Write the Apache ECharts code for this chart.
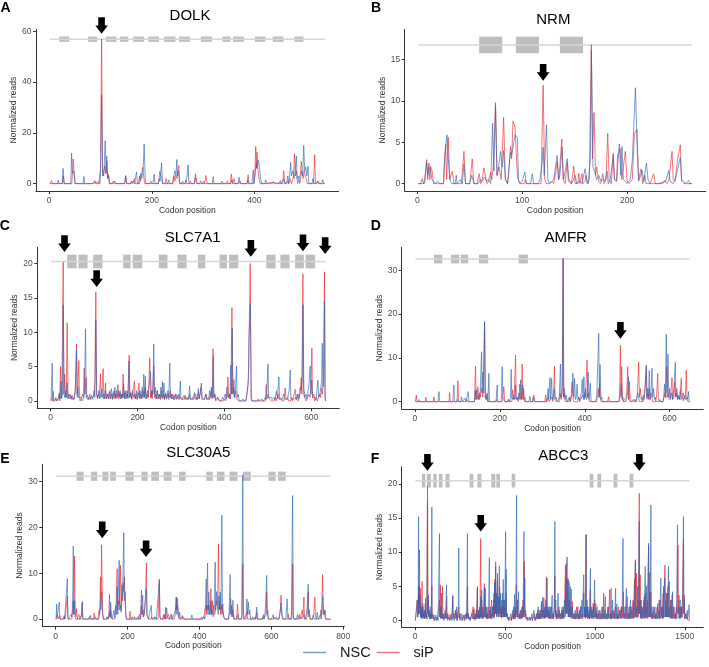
<!DOCTYPE html>
<html><head><meta charset="utf-8">
<script src="https://cdn.jsdelivr.net/npm/echarts@6/dist/echarts.min.js"></script>
<style>html,body{margin:0;padding:0;background:#fff}#c{width:709px;height:667px}</style>
</head><body><div id="c"></div>
<script>
// ---------- DATA ----------
const GENES = ['DOLK','NRM','SLC7A1','AMFR','SLC30A5','ABCC3'];
const PANEL_LETTERS = ['A','B','C','D','E','F'];
const SERIES_NAMES = ['NSC','siP'];

const X_TICKS = [[0,200,400],[0,100,200],[0,200,400,600],[0,200,400,600],[0,200,400,600,800],[0,500,1000,1500]];
const Y_TICKS = [[0,20,40,60],[0,5,10,15],[0,5,10,15,20],[0,10,20,30],[0,10,20,30],[0,5,10,15,20]];
const X_RANGE = [[-25.8,563.8],[-12,275],[-30.6,664.6],[-31.3,679.3],[-37.2,803],[-75.3,1603]];
const Y_RANGE = [[-2.9,60.8],[-0.89,18.66],[-1.07,22.37],[-1.68,35.28],[-1.65,33.7],[-1.0,22.5]];

// protein track: [start, end, y]
const TRACKS = [[1,537,56.9],[1,262,16.77],[1,633,20.3],[1,647,32.6],[1,765,31.1],[1,1526,20.45]];

// domain boxes [start, end]
const A_BOXES = [[19.5,39],[76,93.5],[110.4,131],[137.7,154],[163.6,185],[192.9,214],[224,246],[253,274],[295.4,317.5],[337.6,353],[358.4,379.8],[400.6,421.4],[435.6,456.4],[477.8,495.4]];
const B_BOXES = [[59,81],[94,116],[136,158]];
const C_BOXES = [[38,60],[64,85],[98,119.5],[167,184],[189,211],[249,269],[292,313],[339,356],[389,406],[411,432],[496.5,518],[529,550],[563,583],[587,609]];
const D_BOXES = [[44.7,64.3],[84.7,104.3],[107.5,125.5],[150.6,172.5],[244,266]];
const E_BOXES = [[58,78],[98,115.6],[130,147],[151.6,167.4],[194,217],[238.6,256],[266,287.5],[300.5,322.7],[343,361.6],[419,437],[448.5,469.7],[483.6,505.8],[520.5,542.8],[591.8,612],[618.6,640]];
const F_BOXES = [[37,55.5],[64.7,87],[100,120],[131,151.7],[168,190.5],[303,323.7],[346,368],[423.6,445.8],[451,471.7],[536.4,556.8],[971,991.5],[1013.7,1034],[1104,1124.7],[1193,1213.5]];

// arrows [codon, tip value]
const A_ARROWS = [[102,59]];
const B_ARROWS = [[120,12.45]];
const C_ARROWS = [[32,21.7],[106,16.6],[461,21.0],[581,21.8],[632,21.4]];
const D_ARROWS = [[484,14.4]];
const E_ARROWS = [[129.5,17.6],[251.5,13.5]];
const F_ARROWS = [[68,21.9],[364.5,13.0],[1247,21.9]];

// reads [codon, normalized reads]
const A_NSC = [[1,0],[16,0],[17.6,1.4],[19,0],[25,0],[27,6],[29,0],[42,0],[43.6,12],[45,4],[48,5],[50,0],[66,0],[67.6,2.9],[69,0],[85,0],[88,0.8],[91,0],[99,0],[100,4],[102,35],[104,3],[107,6],[109,17],[111,4],[112,10.8],[114,2],[116,3],[118,0],[125,0],[128,1],[130,0],[147,0],[149,3.2],[151,0],[160,0],[163,1],[166,0],[168,0],[170,4.5],[172,0],[176,0],[178,4],[180,2],[183,5],[185,15.6],[187,2],[189,0],[202,0],[204.6,3.8],[206,0],[213,0],[215,2],[216,1],[218.9,8.2],[221,0],[231,0],[233,1.5],[235,0],[241,0],[242,2],[244.8,5.1],[247,3],[248.7,9.5],[250,3],[252,5],[254,0],[258,0],[260,1],[262,0],[266,0],[268,2],[270.8,7.4],[272,0],[283,0],[285,2.5],[287,0],[299,0],[301,1],[303,0],[318,0],[319.5,2.8],[321,0],[335,0],[337,1],[339,0],[354,0],[356,1.5],[358,0],[368,0],[370,2.5],[372,0],[385,0],[387,1.5],[389,0],[395,0],[397.7,5.4],[399,0],[401,3],[403,8],[405,6],[407.7,9.3],[410,6.4],[412,2],[414,0],[420,0],[422,1.5],[424,0],[435,0],[437,0.8],[439,0],[448,0],[450.6,1.2],[452,0],[455,0],[457,2],[459,0],[463,0],[465,3],[467,0],[469,0],[470.7,8.4],[472,3],[475,5],[477,2],[479,4],[481.7,10.9],[483,2],[486,3],[488,0],[490,2],[492,5],[494,3],[496,15.1],[498,5],[500,6.5],[502,3],[504.5,6.8],[506,0],[512,0],[514,2],[516,0],[522,0],[524,1],[526,0],[531,0],[533,1.5],[535,0],[537,0]];
const A_SIP = [[1,0],[3,0],[4.6,1.2],[6,0],[26,0],[27.4,3],[29,0],[44,0],[46.8,9.7],[49,3],[51,0],[57,0],[59,0.5],[61,0],[73,0],[75,0.6],[77,0],[87,0],[89,1.2],[91,0],[94,0],[95,1],[97,0],[98,3],[100,6],[102,57],[104,5],[106,3],[108,7],[110,4],[112,9.1],[114,2],[115,3.8],[117,0],[123,0],[125,1],[127,0],[147,0],[149,3],[151,0],[158,0],[160,1],[162,0],[164,0],[166,2],[168,0],[174,0],[176,3],[178,1],[180,4],[182,6.4],[184,3],[186,0],[195,0],[198,1],[200,0],[212,0],[214,2],[215.5,4.9],[217.6,4.9],[219,2],[221,0],[226,0],[228,2],[230,0],[240,0],[243,3],[245,1],[247,3],[249,2],[252.6,7.1],[254,1],[256,0],[265,0],[266,1.5],[268,0],[273,0],[275,1],[277,0],[283,0],[285,3.9],[287,1],[289,0],[293,0],[295,1.2],[297,0],[303,0],[305,3.2],[307,1],[309,0],[345,0],[347,1],[349,0],[353,0],[355,3.8],[357,0],[359,0],[360,2],[362,0],[369,0],[372,1],[374,0],[386,0],[387.7,3.5],[389,0],[399,0],[401,5],[402.5,14.7],[404,6],[405,12.4],[407,5],[409,2],[411,0],[425,0],[430,0.5],[432,0],[455,0],[457,5.1],[459,0],[461,0],[464,1],[466,0],[468,0],[470,2],[472,0],[474,1],[476,3],[478,11.7],[480,3],[482,5],[484,0],[487,0],[489,3],[491.5,8.8],[493,4],[495,2],[497,5],[499,3],[501,2],[503,0],[515,0],[517.4,11.4],[519,0],[522,0],[524,1],[526,0],[530,0],[532,0.5],[534,0],[537,0]];

const B_NSC = [[1,0],[7,0],[8.9,2.6],[10,1],[11,2],[12.7,1.6],[14,0.5],[15.9,0.4],[17,0],[19,0.3],[21,0],[25,0],[26,3],[28.3,5.9],[29.5,3],[31,0.5],[33,0],[36,0],[37.2,1],[38,0],[41,0.5],[43,0],[44.5,2.4],[46,0],[50,0],[52,1],[54,0],[58,0],[60,0.5],[62,0.3],[64,0.8],[66,0.3],[68,0.5],[70,0],[71.8,7.3],[73,1.5],[74.6,9.4],[76,1],[77,1.5],[79.4,3.9],[81,2],[82.3,4],[84,0.5],[86,0],[88.9,3.8],[90,3.5],[92,5],[93.2,5.9],[95.4,5.6],[96.5,0.5],[98,0],[100,0.3],[102.6,1.4],[104,0],[108,0],[109.6,1.2],[111,0],[115,0],[117,0.5],[119.1,2.5],[120,4.4],[121,1],[123.2,7.1],[124.5,0.5],[126,0],[130,0.5],[133.4,3.4],[134.5,0.5],[136,1],[138,4.4],[139.5,0.5],[141,0.5],[143,3],[144.5,0.5],[147,0],[149,0.5],[150.5,1],[152,0],[155,0.3],[157,0],[160,1.8],[161.5,0.5],[163,0],[165,3],[166,16.1],[167.5,2],[169,1.5],[171,0.5],[173,1],[175,0.3],[177,0.5],[179,0.3],[181,1.5],[182,0],[184,0.5],[186.9,3.4],[188,0.5],[190,0.3],[192.7,4.8],[194,1],[195.2,4.5],[196.5,0.5],[198,0.5],[200,0],[203,0.5],[205,2.8],[208,11.6],[209.5,5],[211,0.3],[213,1],[214.5,1.6],[216,0.3],[218.5,2.5],[220,0.5],[222,0],[230,0],[237,0.3],[239.7,1.6],[241,0.3],[244,0],[247,1],[250.8,3.2],[252,0.5],[254,0.3],[256,0],[258.8,0.4],[260,0],[262,0]];
const B_SIP = [[1,0],[3,0],[4.8,0.6],[6,0],[7,0.5],[8.9,2.9],[10,0.5],[11.1,2.5],[12,0.5],[12.7,2.1],[14.3,1.4],[15.5,0],[20,0],[25,0],[27,4.8],[28,0.5],[29.5,5.6],[31,0.5],[33.4,1.5],[35,0],[42,0],[44.5,3.9],[46,0],[50,0],[52.4,3],[54,0],[57,0],[59,1.2],[60.5,0],[62,0.5],[63.5,1.9],[65,1.8],[66.5,0],[68,0.3],[69.9,1.4],[71,0.5],[72.5,2.1],[74.6,9.8],[76,1],[78,2],[80,0.5],[82.3,8],[84,0.5],[86,0],[87,1],[88.9,4.5],[90,3],[91.3,7.6],[93.2,6.8],[95,2],[96,0.5],[98,0],[102,0],[103,0.5],[104,0],[118,0],[120,11.9],[121.5,0.5],[123,0],[126,0],[128,0.3],[130,0],[132,1.25],[133.4,2.7],[135,0.5],[137.8,5.4],[139,0.5],[141,0],[143,2.5],[144,0.3],[147,0],[149.2,2.1],[150.5,0],[153,0],[154,1.25],[155,0],[157,1.2],[158,0],[160,0.3],[161,1],[162,0],[164,0.5],[166,16.8],[167,3],[168.5,8.6],[170,1],[171,2],[173,0.3],[175,0],[177,1.2],[178,0],[180,0.5],[181.6,6.1],[183,0.5],[185,0],[186.9,3.7],[188,0.5],[190,0.3],[191,3.5],[193.5,4.2],[195,0.5],[196,0.5],[198.4,3.9],[200,0.3],[202,0],[205,0.5],[207,6],[208,5.8],[209.5,6.6],[211,0.5],[213.4,1.8],[215,0],[217,1],[218,0],[222,0],[225.4,1.2],[227,0],[234,0],[236,0.4],[238,0],[240,0.5],[242.9,3.9],[244,0.5],[246,0.3],[248,2.8],[250.8,4.7],[252,0.3],[254,0],[262,0]];

const C_NSC = [[1,0],[2.5,0],[3.7,5.5],[5,0.5],[6,1.4],[7,0],[12,0.5],[14,0],[18,0.3],[20,1.2],[22,0.3],[24,2.9],[25.5,0.3],[27,1],[29,14],[31,1],[33,0.5],[35,1.5],[36.5,0.5],[38,2.6],[40,0.3],[42,1],[44,0.3],[47,0.8],[49,0.2],[52,0.5],[54,0.2],[57,1.5],[59.7,7.5],[61.5,0.5],[63,2],[65,0.5],[67,0.3],[70,0.5],[73,0],[76,0.5],[78,1],[80.4,10.5],[82,0.5],[85,0.8],[87,0.2],[90,1],[92,0.3],[95,0.5],[97,0.3],[100,1.5],[102,0.5],[104.1,11.7],[106,1],[108,0.3],[111,1.5],[113,0.3],[115,0.5],[118,1.8],[120,0.5],[122,1],[124,0.3],[126,1.5],[128,0.3],[130,1],[132,0.5],[135,1.2],[137,0.3],[140,1.8],[142,0.3],[144,1.2],[146,0.5],[148,2],[150,0.3],[152,1.5],[154,0.5],[156,1.5],[158,0.5],[160,1.2],[162,0.3],[164,1],[166,0.5],[168,2.5],[170,0.3],[172,1.5],[174,0.5],[176,1.5],[178,0.3],[180.8,5.8],[182,0.5],[184,1.2],[186,0.3],[189,1.5],[191,0.5],[193,1],[195,0.3],[198,1.5],[200,0.3],[202,1.2],[204,0.5],[206,1.5],[208,0.3],[211,2],[212.5,0.5],[214.5,3.9],[216,0.5],[218,3.6],[219.5,0.3],[222,1],[224,0.5],[226,2],[228.3,3],[230,4.3],[232,0.5],[234,1.5],[235.5,1],[237.5,8.3],[239,1],[241,2],[243,0.3],[245,1.5],[247,0.3],[250,1],[252,0.3],[254,2],[255.5,0.5],[257.4,2.8],[259,0.5],[261,2.6],[262.5,0.3],[265,1],[267,0.3],[270,1.5],[272,0.5],[274.3,5.5],[276,0.5],[278,1],[280,0.3],[283,0.8],[285,0.2],[289,1],[291,0.3],[295,1],[296.5,0.3],[298.8,2.9],[300,0.3],[303,0.5],[306,0.2],[310,0.8],[312,0.2],[316,0.5],[318,0.2],[320,2.2],[321.5,0.3],[325,0.5],[327,0.2],[331,1.2],[333,0.2],[336,0.5],[338,0.2],[340,1.8],[342,0.3],[345,1.2],[347,2.6],[349,0.3],[352,0.5],[354,0.2],[357,1],[359,0.3],[362,0.5],[364,0.2],[366,1.5],[368,0.5],[370,2],[372,0.5],[374.5,6.5],[376,0.5],[378,1],[380,0.2],[384,0.5],[386,0.2],[390,0.3],[393,0],[396,0.5],[398,0.2],[402,1],[404,0.3],[406,2],[408,0.5],[411,1],[413,0.3],[415,5.2],[416.5,1],[418,10.6],[420,1],[422,3.1],[423.5,0.5],[426,2],[428,5.1],[429.5,0.5],[432,1],[434,0],[440,0],[443,0.3],[445,0],[450,0],[452,1],[454,2],[455.5,3],[456.5,9],[460,14.2],[462,0.5],[464,0],[490,0],[494,0.5],[496,0.2],[498,1.5],[500.4,5.4],[502,0.5],[505,0.3],[508,0.5],[510,0.2],[514,0.5],[516,0.2],[520,1.5],[522,0.3],[525.6,3.5],[527,0.3],[530,0.5],[533,0.2],[537,1],[539,0.3],[543,0.5],[545,0.2],[549,1.5],[551.7,4.5],[553,0.3],[557,0.5],[559,0.2],[563,0.5],[566,0.2],[570,1],[572,0.3],[575,2],[577,1.5],[579,3],[581,14],[583,2],[585,0.5],[588,1],[590,0.3],[593,1.5],[595,2.5],[597.6,5.1],[599,1],[601,3],[603,0.5],[606,0.3],[609,0.5],[611,0.2],[613,1.5],[615.3,3],[617,0.5],[620,1],[622,2],[624,3],[625.3,8.4],[627,2],[629,3.5],[630.6,14.5],[632,0.5],[633,0]];
const C_SIP = [[1,0],[3,0],[4,0.5],[5,0],[10,0],[12,0.3],[14,0],[18,0.5],[20,1],[21,0],[22.9,5],[24.5,0.5],[26,1],[29,20.2],[30.5,1],[32.5,3.9],[34,0.5],[36,1],[38.2,11.4],[40,0.5],[42,0.3],[45,1],[47,0.3],[50,0.8],[52,0.2],[55,0.5],[57,2],[59.7,8.3],[61,1],[63,2],[65,5.9],[66.5,0.5],[68,0],[72,0],[74,1],[75.5,0.5],[77.3,4.8],[79,1],[80.4,2],[82,3.4],[83.5,0.5],[86,0.2],[89,0.5],[91,0.2],[94,0.8],[96,0.3],[98,0.5],[100,1],[102,3],[104.1,15.9],[106,1],[108,0.5],[110,1],[112,0.5],[114.9,3.9],[116.5,0.5],[118,1],[121,4.7],[122.5,0.3],[125,1],[126.5,2.6],[128,0.3],[131,1],[133,0.3],[136,1.5],[138,0.3],[141,1],[143,0.2],[146,1.5],[148,0.3],[150,1],[152,0.5],[155,2.4],[157,0.3],[160,1.5],[162,0.3],[164,1],[165.5,0.5],[167,3.9],[168.5,0.5],[171,1.2],[173,0.3],[176,1],[178,0.5],[180.8,6.7],[182.5,0.5],[185,1.2],[187,0.2],[190,1.5],[193,2.9],[194.5,0.3],[197,1],[199,0.2],[202,1.5],[203.5,2.6],[205,0.3],[208,1],[210,0.3],[213,1.5],[215,0.5],[218,2],[220,0.3],[223,1.5],[225,0.5],[228.3,6.3],[230,0.5],[232,1.5],[234,0.3],[235.5,2],[237.5,5.1],[239,0.5],[241,1],[243,0.3],[246,1.5],[248,0.3],[251,1],[253,0.2],[256,1.5],[258,0.3],[260,1],[262,0.2],[265,1.2],[267,0.3],[270,1],[272,0.2],[276,1.5],[278,0.3],[281,1],[283,0.2],[287,1],[289,0.2],[293,0.8],[295,0.2],[300,0.5],[302,0.2],[307,0.8],[309,0.2],[313,0.5],[315,0.2],[320,1],[322,0.2],[327,0.5],[329,0.2],[334,1],[336,0.2],[340,1.2],[342,0.3],[346,2],[348,0.3],[352,0.5],[354,0.2],[358,1],[360,0.2],[364,0.5],[366,0.2],[370,1.5],[372,0.3],[373.9,7.6],[375.5,0.5],[378,1],[380,0],[384,0],[386,0.5],[388,0],[398,0],[401,0.3],[403,0],[406,1],[408.3,3.5],[410,0.5],[412,1],[414,0.3],[415,1.5],[417.5,13.6],[419,1],[421,2],[423,0.5],[426,1.5],[428,0.3],[432,0.5],[434,0],[448,0],[451,0.5],[454.3,2.4],[456,5],[459.6,20],[461.5,0.5],[463,0],[476,0],[478,0.3],[480,0],[484,0],[486,0.3],[488,0],[494,0],[496.5,2.4],[498,0.3],[501,1],[503,0.3],[506,0.5],[508,0],[514,0],[517,0.5],[519,0],[522,0],[524,1],[526,0.2],[530,0.5],[532,0],[537,0],[540,1.9],[542,0.2],[546,0.5],[548,0],[553,0],[555,0.5],[557,0],[561,0],[563,1.7],[565,0.2],[568,1],[570,0],[574,1],[577,3.4],[578.5,1],[580.8,18.5],[582.5,1],[585,0.5],[588,0],[592,0],[595,1],[597,0.5],[599,1],[601.5,7.7],[603,0.5],[606,1],[608,0],[612,0.5],[614,0],[618,0],[620,1],[622,0.5],[624,1.9],[626,1],[628,3],[630.6,18.8],[632,0.5],[633,0]];

const D_NSC = [[1,0],[8,0],[10,0.5],[12,0],[30,0],[32,0.3],[34,0],[54,0],[56.5,2.3],[58,0],[89,0],[91.8,3.8],[93,0],[98,0],[100,0.5],[102,0],[108,0],[110,1.1],[112,0],[116,0],[118,0.8],[120,0],[123,0],[125.5,2.3],[127,0],[140,0],[142,2.5],[143.5,0.5],[145,2.7],[147,0.5],[150,1.5],[152,0.5],[154,3],[156.9,11.4],[158,2],[160,6.8],[162,2],[164,18.4],[166,1],[168,0.5],[170,2],[172,0],[174,6.5],[175.5,0],[191,0],[193.7,3.8],[195,0],[203,0],[205.5,8],[207,1],[209,0.5],[211,0],[219,0],[221,0.5],[223,0],[225,1],[226.7,7.4],[228,1],[231,0.5],[233,1.5],[235,0.5],[237,3.8],[238.5,0.5],[241,1],[243,0.5],[245,2],[247,0.5],[249,5],[251,0.5],[254,3.8],[256,0.5],[259,1],[261,0],[268,0],[271,1.2],[273,0],[278,0],[280,1],[282,0],[310,0],[312,1],[313.7,3.0],[315,0.5],[318,5.5],[319.5,0.5],[322,5.3],[323.5,0.5],[326,1],[328.6,3],[330,0.5],[333,1],[335,0],[340,1],[342.7,8.6],[344,1],[347,3.5],[349,32.5],[350.5,1],[352,3],[354,0.5],[356,1.5],[358,0],[362,0],[364,1],[366,0],[368,1],[370.2,2],[372,6.5],[374,1],[376,5.3],[378,0.5],[380,1],[382,4],[384,0.5],[386,1],[388,0.3],[392,2],[394,5.1],[396,1],[398,5.7],[399.5,0.5],[402,3],[404,0.5],[406,1],[408,6.8],[410,0.5],[413,4.2],[415,0],[425,0],[428,1],[430,7],[433,15.6],[434.5,1],[436,8.5],[438,0.5],[440,1],[442,0],[452,0],[454,0.3],[456,0],[462,0],[464,0.3],[466,0],[480,0],[482,0.5],[484,2],[486,4.2],[488,0.5],[490,1],[492,0],[497,0],[499,1],[501,2],[503,5.7],[505,0.5],[507,0],[515,0],[518,0.5],[520,0],[523,1],[525,2],[527,1],[529,0],[535,0],[538,1.5],[540,0.5],[542,3],[545,8],[546.5,1],[548,3],[550,0.5],[552,7.1],[553.5,0.5],[556,2],[558.4,7.6],[560,1],[562,3],[564,0.5],[566,1],[568,0],[574,0],[577,0.5],[579,0],[584,0],[586,1],[588,4],[590,1],[592,15.4],[594,2],[596,10.8],[598,1],[600,3],[602,0.5],[605,2],[607,0.5],[610,3],[613.3,9],[615,1],[617,2],[619,0.5],[621,1.5],[623,0.5],[625,2.5],[627,0.5],[630,1],[632,0.2],[636,1.5],[638,0.5],[641,1],[642.5,0.5],[644.7,2.3],[646,0],[647,0]];
const D_SIP = [[1,0],[2,0],[3.1,1.5],[4.5,0],[24,0],[25.5,1],[27,0],[43,0],[44.7,1.1],[46,0],[80,0],[81.6,2.1],[83,0],[99,0],[101.2,4.8],[103,0],[120,0],[122,0.5],[124,0],[140,0],[142.7,8.1],[144,0.5],[146,1],[148,3.4],[150,0.5],[152,2],[154,1],[156,3],[158,2.5],[160,1],[162.4,11.2],[164,18],[165.5,1],[167,0.5],[169,1.5],[171,0],[190,0],[192,0.5],[194,0],[205,0],[207,1.5],[209.4,3.4],[211,0.5],[213,0],[218,0],[220,0.5],[222,0],[228,0],[230,2.7],[232,0.5],[234,1.5],[236.9,10.6],[238.5,0.5],[241,1],[243,0],[245,1],[247,4],[249,0.5],[251,1],[252.5,8.6],[254,0.5],[256,3],[258,0],[276,0],[278,1],[280,1.5],[282,0],[306,0],[308,1.5],[310,0],[312,0],[314,1],[316,0],[320,0],[323,1],[325,0],[327,3],[328.6,8.1],[330,0.5],[333,0],[340,0],[342,2],[344,0.5],[347,2],[349,32.8],[350.5,1],[352,2],[354,0],[362,0],[364,1],[366,0],[368,1.5],[370.2,4.5],[372,1],[374,0],[383,0],[386,1],[388,0],[392,0],[395,1.5],[397,0.5],[400,2],[402,1],[403.5,5],[405.5,9.5],[407,1],[409,2],[411,0],[428,0],[430,1],[432,3],[433.5,1],[435,4.2],[437,0.5],[439,0],[454,0],[456,1.1],[458,0],[481,0],[482.5,4],[484,12.9],[485.5,1],[487,8],[489,0.5],[491,0],[495,0],[497,1],[499,2],[501.2,8],[503,0.5],[505,4.6],[507,0.5],[509,0],[513,0],[515,0.5],[517,0],[522,0],[524,2],[527,9.1],[529,1],[531,3],[533,0.5],[535,1],[537,0],[540,1],[542,3],[545,8.4],[546.5,0.5],[548,2],[550,1],[552,3],[554,0.5],[556,2],[558,1],[560,0],[566,0],[569,1],[571.8,6.5],[573.5,0.5],[576,0],[584,0],[587,1],[589,2],[591,1],[593,8],[594.5,1],[597,2],[599,0.5],[602,1],[605.5,5.5],[607,0.5],[610,1],[612,4.5],[614,1],[617,3],[619,0.5],[622,1],[624,0.5],[627.4,5.3],[629,1],[632,2],[634,0.5],[637,1],[639.2,7.2],[641,0.5],[643,0],[647,0]];

const E_NSC = [[1,0],[2,0],[2.8,3.3],[4,0.3],[6,0],[8,0.5],[10,3.7],[11.5,0],[20,0],[23,0.5],[25,0],[30,0],[32.4,8.8],[34,0.5],[36,0],[40,0.5],[43,1],[45,0.5],[47,3],[49,15.9],[50.5,1],[52.7,4],[54,0.5],[56,0],[60,0.3],[62,0],[70,0],[72,1],[74,3.9],[75.5,0],[92,0],[94,0.5],[96,0],[108,0],[111,0.5],[113,0],[120,0],[122,1],[124.8,3],[126,4],[127.6,6],[129,5.9],[131,1],[133,0],[140,0],[143,0.5],[145,0],[148,0],[150,1.5],[152,0.3],[153,3.7],[155,0.5],[157,0],[160,0],[162,1.9],[164,0.3],[167,3],[169,1],[171,7],[173,1],[174,5],[176.7,12.8],[178,2],[180,3],[182,1.5],[184,7.5],[186,5],[189.5,18.8],[191,4],[193,6],[195,1],[197,0],[210,0],[213,0.5],[215,0],[225,0],[228,0.5],[230,0],[236,0],[238.6,3],[240,1],[242,5.2],[243.5,0.5],[246,1],[248,3],[250,4.5],[252.4,6.6],[254,1],[256,0.5],[258,0],[263,0],[266,3],[267.5,0],[275,0],[278,0.5],[280,0],[285,0],[288.5,8.4],[290,0.5],[292,0],[300,0],[303,1],[305,0],[307,0],[309,2.4],[311,0.5],[313,0],[320,0],[323,1],[325,0],[330,0],[333,2],[335.6,4.8],[337,1],[339,3],[341,1.5],[343,0.3],[345,1.5],[347,0],[352,0],[355,0.5],[357,0],[377,0],[379,0.9],[381,0],[395,0],[398,0.3],[400,0],[410,0],[413,0.5],[415,0],[416,1.5],[418.9,8.8],[420,2],[422.6,3],[424,1],[426,5.9],[428,2],[430,1],[432,4],[434,1],[436,2],[438,0.5],[441,3],[443.8,12.4],[445,2],[448,6],[450,3],[452,1],[454,5],[456,2],[458,5.9],[460,2],[462.3,22.6],[464,2],[466,1.5],[468,0.5],[470,0],[482,0],[485.4,9.7],[487,1],[489,3],[491,0.5],[493,4.1],[495,1],[497,0],[505,0],[508,1],[510,0],[516,0],[518,1],[520.6,31.4],[522,1],[524,0],[528,0],[530,1],[532,4.4],[533.5,1],[536,3.7],[538,1],[540,2],[542,0],[552,0],[555,0.5],[557,0],[557.5,1],[559.4,2.6],[561,0],[575,0],[578,1],[580,0],[582,1],[584,3],[587,9.5],[588.5,1],[590,2],[592,0],[600,0],[603,0.5],[605,1],[607,0],[612,0],[614,0.5],[616,0],[622,0],[625,2],[627,3.5],[628.5,3.3],[630,1],[632,0],[640,0],[642,2],[644,4.4],[646,0.5],[648,0],[654,0],[656,1],[659.2,26.9],[661,1],[663,0],[670,0],[673,1],[675,0],[680,0],[683,0.5],[685,0],[690,0],[692,1],[694,0],[698,1],[700,3],[702.7,7.6],[704,1],[706,2],[708,0],[714,0],[717,1],[719,0],[725,0],[728,1.5],[730,0],[735,0],[737,1],[739,0],[741,2],[743.5,4.9],[745,1],[747,2],[749,0.5],[751,0],[765,0]];
const E_SIP = [[1,0],[3,0],[5,1],[7,0],[10,0],[12,0.8],[14,0],[22,0],[24,0.8],[26,0],[30,0],[32.4,5],[34,0],[45,0],[47,2],[49,4],[50.5,1],[52.7,13.7],[54,2],[56,0.5],[58,2.3],[60,0],[63,0],[65,1],[67,0],[70,0],[72,1],[74,3.5],[75.5,0],[94,0],[97,0.8],[99,0],[105,0],[107,1.3],[109,0],[118,0],[121,2],[122.5,1],[124.8,9.2],[126,2],[127.6,16.2],[129,8.1],[131,1],[133,0],[142,0],[145,0.5],[147,0],[148,1],[149.8,5.4],[151,0.5],[153,2],[155,0.5],[158,0],[165,0],[168,3],[171,11],[172.5,2],[175,4],[177,3],[178.5,3],[180,11.7],[182,2],[184,5],[186,4],[188,8],[189.5,6],[191,9.2],[193,4.8],[195,1],[197,0],[205,0],[207,1.7],[209,0],[218,0],[220,0.5],[222,0],[230,0],[233,1],[235,0],[236.5,2],[238.6,6.3],[240,1],[243,2],[245,0.5],[248,2],[250,5],[252.4,12.2],[254,1],[256,0.5],[258,0],[265,0],[267,0.5],[269,0],[272,0],[274,0.5],[276,0],[285,0],[288.5,8.7],[290,0.5],[292,0],[298,0],[300,1],[302,0],[304,0.5],[306,2.6],[307.5,0],[312,0],[314,1],[316,0],[318,0],[321,1],[323,0],[330,0],[333,1],[335.6,4.8],[337,2],[339,4.5],[341,1],[343,0],[350,0],[352,0.8],[354,0],[403,0],[406,0.5],[408,0],[412,0],[414,1],[416,2.3],[418.9,3],[420,1],[422.6,12.2],[424,2],[426,3],[428,1],[430,2],[432,6.6],[434,1],[436,4],[438,2],[440,3],[442,1],[445,2],[447,4],[449,3],[451,6],[453,16.4],[455,2],[457,4],[459,1],[461,3],[463,1],[465,3.3],[467,0.5],[470,0],[480,0],[483,1],[485.4,3],[487,4.4],[489,1],[491,0.5],[493,2],[495,0],[503,0],[506,3.3],[508,0],[518,0],[520.6,12],[522,2],[524,0],[530,0],[532,1.5],[534,0],[545,0],[548,0.5],[550,0],[556,0],[560,1.5],[562,0],[575,0],[577,0.5],[579,0],[585,1],[587,5.9],[588.5,1],[590,1],[592,0],[605,0],[607,0.5],[609,0],[620,0],[623,1],[625,2],[627,5.2],[628.5,1],[630,0.5],[632,0],[645,0],[647,1],[649,0],[657,0],[659.2,12],[661,0.5],[663,0],[675,0],[678,1],[680,0],[683,0],[686,2],[688,0.5],[690.7,4.8],[692,0],[698,0],[700,1],[702.7,5.9],[704,0.5],[706,1],[708,0],[715,0],[718,1],[721.2,4.8],[723,0.5],[725,0],[735,0],[738,2],[740,1],[742.5,9.7],[744,3],[746,2],[748,1],[750,1.9],[752,0],[765,0]];

const F_NSC = [[1,0],[10,0],[12,3],[14,0.5],[16,1],[18.5,15.2],[20,1],[22,5],[24,2],[27,3.7],[29,0.5],[32,2],[34,0.3],[37,1.5],[39,0.3],[42,2.5],[44,0.5],[47,1],[50,0.3],[53,1.5],[55,0.3],[58,3.3],[60,0.5],[63,1],[65,0.2],[68.4,17.6],[70,1],[73,3.7],[75,0.5],[78,1],[80,0.2],[83,2],[85,0.3],[88,1],[90,0.3],[92.5,16.6],[94,1],[97,0.5],[100,0.2],[104,0.8],[106,0],[112,0],[115,0.8],[117,0],[122,0],[125,0.5],[127,0],[131,0],[135,12.7],[136.5,0.5],[139,2],[141,0.3],[145,1.5],[147,4],[149,0.3],[152,1],[154,0.2],[158,0.5],[160,0],[165,0],[168,1],[170,0.3],[173.9,5.2],[175.5,0.3],[178,1],[180,0],[188,0],[192,0.8],[194,0],[200,0],[203,0.5],[205,0],[207,1],[209,3.7],[211,0.3],[215,0.5],[217,0],[222,0],[225,1.5],[227,0.3],[230,2],[232,0],[238,0],[240,2],[242,10.6],[244,0.5],[247,1],[249,0],[258,0],[260,1],[262,0],[268,0],[270,0.8],[272,0],[278,0],[281,1],[283,0.2],[287,1.5],[290.4,12.7],[292,0.5],[295,1],[297,0.2],[302,0.5],[304,0],[312,0],[315,1],[317,0.2],[322,1.5],[324,0.2],[330,0.5],[332,0],[336,0],[338,1],[340,0.2],[343,2],[345.9,4.7],[347.5,0.5],[350,1],[352,0.3],[355,1.5],[357,0.2],[360,1],[362,0.3],[364.4,3.5],[366,0.5],[370,4.5],[372,0.3],[376,1],[378,0.3],[381,2],[385,4.9],[387,0.5],[390,4.7],[392,0.5],[396,2],[398,0.3],[402,1],[404,0.2],[408,2],[412.5,9.2],[414,0.5],[418,1.5],[420,0.3],[424,1],[426,0.2],[430,2],[433,0.5],[436,3],[438,0.3],[442,5.5],[444,1],[447.7,7.9],[449.5,1],[452,4],[454,0.5],[458,6],[460,1],[463,3.5],[465,0.5],[468,8],[470,1],[474,4],[476,0.5],[480,2],[482,0.3],[485,4],[487,1],[490,6],[492,0.5],[496,3],[498,0.5],[503,13],[504.5,1],[506,7.5],[508,0.5],[512,1],[514,0.2],[518,0.5],[520,0],[530,0],[533,1],[535,0],[540,0],[543,1.5],[545,0.2],[548,2],[550,0.5],[553,3.8],[555,0.5],[558,1.5],[560,0.5],[564,18.3],[566,1],[569,3],[571,0.5],[575,4.2],[577,0.5],[582,1],[584,0.2],[590,1.5],[592,0.3],[597,2],[599,0.5],[602,5],[605,13],[606.5,1],[610,6.2],[612,0.5],[616,1],[618,0.2],[624,0.5],[626,0],[635,0],[638,0.5],[640,0],[648,0],[650,1],[652,0],[658,0],[661,1.5],[663,0.2],[668,0.5],[670,0],[676,0],[678,1],[680,0.2],[684,2],[686,0.3],[690,1.5],[692,0.3],[696,1],[698,0.2],[703,2.5],[705,0.5],[710,3.4],[712,0.5],[716,1.5],[718,0.3],[722,2],[724,0.5],[728,3],[730,0.5],[734,6.2],[736,0.5],[740,2],[742,0.3],[746,1.5],[748,0.3],[752,2],[754,0.3],[758,1.5],[762,3.7],[764,0.3],[768,1],[770,0.3],[774,2],[777,14.5],[779,1],[782,3],[784,0.3],[788,1],[790,0.3],[795,4],[797,0.5],[802,1.5],[804,0.3],[810,1],[812,0.2],[818,2],[820,0.3],[825,1.5],[827,0.3],[832,3],[834,0.5],[838,6],[840,1],[845,9.3],[847,1],[850,6.2],[852,0.5],[856,5.7],[858,0.5],[862,5],[864,0.5],[868,4.6],[870,0.5],[875,2],[877,0.3],[882,1],[884,0.2],[890,1.5],[892,0.3],[898,1],[900,0.2],[905,2],[907,0.3],[912,1],[914,0.2],[920,2],[922,0.3],[928,3],[930,0.5],[937.8,6.7],[940,0.5],[944,2],[946,0.3],[950.8,12.5],[952.5,0.5],[956,3],[958,0.3],[962,2],[964,0.3],[968,1.5],[970,0.3],[974.8,7.6],[976.5,0.5],[980,2],[982,0.3],[986,1.5],[988,0.3],[992,2],[994,0.5],[998,5.9],[1000,0.5],[1005,1.5],[1007,0.3],[1012,2],[1014,0.3],[1020,1],[1022,0.2],[1028,1.5],[1030,0.2],[1036,1],[1038,0.2],[1044,2],[1046,0.3],[1048.8,4],[1050.5,0.3],[1056,1.5],[1058,0.2],[1064,1],[1066,0.2],[1072,2],[1074,0.3],[1078,1.5],[1082,4.5],[1084,0.3],[1090,1],[1092,0.2],[1098,3],[1100,0.3],[1105,1.5],[1107,0.3],[1112,2],[1115,4.7],[1117,0.3],[1122,2.4],[1124,0.3],[1130,1],[1132,0.2],[1138,1.5],[1140,0.3],[1146,2],[1148,0.3],[1152,3],[1156,12],[1158,0.5],[1162,2],[1164,0.3],[1170,1.5],[1175,4.7],[1177,0.3],[1182,1],[1184,0.2],[1190,2],[1192,0.3],[1198,3],[1200,0.3],[1205,2],[1207,0.3],[1212,1.5],[1215,2.8],[1217,0.3],[1220,3],[1225,8.6],[1227,0.5],[1232,2],[1234,0.3],[1238,5],[1240,1],[1246.7,14.5],[1248.5,1],[1252,3],[1254,0.3],[1258,2],[1260,0.3],[1265,1.5],[1267,0.3],[1272,3],[1274,0.5],[1280,7.9],[1282,0.5],[1286,5.1],[1288,0.5],[1292,3],[1294,0.3],[1298.6,11.3],[1300.5,0.5],[1305,4],[1307,0.5],[1311.5,16.9],[1313,0.5],[1318,2],[1320,0.3],[1326,1.5],[1328,0.3],[1334,2],[1336,0.3],[1342,1],[1344,0.2],[1350,2.5],[1352,0.3],[1358,3],[1360,0.3],[1367,6.2],[1369,0.5],[1374,2],[1376,0.3],[1382,5],[1384,0.5],[1389,6.2],[1391,0.5],[1396,3],[1398,0.5],[1402,4],[1404,0.5],[1409.5,7.9],[1411,0.5],[1416,2],[1418,0.3],[1424,3],[1426,0.3],[1432,4.2],[1434,0.3],[1440,2],[1442,0.3],[1448,1],[1450,0.2],[1455,3],[1459.5,14],[1461,1],[1466,2],[1468,0.3],[1474,3],[1476,0.3],[1481,2],[1483,0.5],[1488,4],[1492.8,15.2],[1494.5,1],[1498,3],[1500,0.3],[1506,1],[1508,0.2],[1514,1.5],[1516,0.3],[1520,1],[1524,2.3],[1526,0]];
const F_SIP = [[1,0],[8,0],[11,3],[13,0.5],[16,1],[18.5,5],[20,1],[24,10.3],[25.5,1],[28,4.7],[30,0.5],[33,2],[35,0.3],[38,5.7],[40,0.5],[44,2],[46,0.3],[50,1.5],[52,0.3],[56,2.5],[58,0.5],[62,1],[64,0.3],[68.4,19.6],[70,1],[73,3],[75,0.5],[80,1.5],[82,0.3],[86,1],[88,0.2],[92.5,5],[94,0.5],[98,1],[100,0.2],[105,0.5],[107,0],[118,0],[120,0.5],[122,0],[132,0],[135,3],[137,0.5],[140,5.2],[142,0.3],[146,2],[148,0.3],[152,5],[154,0.3],[158,1],[160,0.2],[166,1.5],[168,0.3],[172,2],[175,3.5],[177,0.3],[182,1],[184,0.2],[190,0.5],[192,0],[198,0],[200,1],[202,0.2],[206,2],[209,3.5],[211,0.3],[216,1],[218,0.2],[224,1.5],[226,0.3],[232,1],[234,0],[240,0],[242,2],[244,0.3],[250,1],[252,0.2],[258,0.5],[260,0],[270,0],[273,0.8],[275,0],[282,0],[285,1],[287,0.2],[290.4,5],[292,0.3],[296,1],[298,0.2],[304,0.5],[306,0],[316,0],[319,1.5],[322,2],[324,0.3],[328,1.7],[330,0.2],[334,1],[336,0.2],[340,1.5],[342,0.3],[345.9,5],[347.5,0.3],[352,1.5],[354,0.3],[358,2],[360,0.5],[364.4,12],[366,0.5],[370,3],[372,0.3],[376,2],[378,0.3],[381,1.5],[385,5.4],[387,0.5],[391,2],[393,0.3],[398,1],[400,0.2],[405,2],[407,0.3],[412,1.5],[414,0.3],[418,2],[420,0.3],[425,3],[427,0.5],[432,2],[434,0.5],[438,4],[440,0.5],[443,6],[445,1],[447.7,8.6],[449.5,1],[452,3],[454,0.5],[458,6.9],[460,1],[464,3],[466,0.5],[470,5],[472,1],[476,2],[478,0.5],[482,3],[484,0.5],[488,2],[490,0.5],[494,3],[496,0.5],[500,2],[502,0.5],[505,4],[507,0.5],[512,1],[514,0.2],[520,0.5],[522,0],[530,0],[533,0.5],[535,0],[541,0],[544,1],[546,0.2],[550,1],[552,0.2],[556,2],[558,0.3],[562,5.2],[564,2],[566,0.5],[570,2],[572,0.3],[578,1],[580,0.2],[586,1.5],[588,0.3],[594,2],[596,0.3],[600,3],[602,0.5],[607,8.6],[609,0.5],[614,1.5],[616,0.2],[622,0.5],[624,0],[633,0],[636,0.5],[638,0],[646,0],[649,0.5],[651,0],[660,0],[664,1],[666,0],[672,0],[675,1],[677,0.2],[682,1.5],[684,0.2],[690,1],[692,0.2],[698,1.5],[700,0.3],[703,2.8],[705,0.3],[710,1.5],[712,0.3],[716,3.3],[718,0.3],[724,2],[726,0.3],[730,6.4],[732,0.5],[738,1.5],[740,0.3],[745,2],[747,0.3],[752,1],[754,0.2],[758,2],[760,0.3],[766,1],[768,0.2],[774,2],[777,6.5],[779,0.5],[784,1.5],[786,0.2],[792,1],[794,0.2],[800,2],[802,0.3],[808,1],[810,0.2],[816,1.5],[818,0.3],[824,2],[826,0.3],[832,4],[836,8.1],[838,1],[841,8.4],[843,1],[848,5],[850,5.9],[852,0.5],[858,3],[860,0.5],[866,2],[868,0.3],[874,2.8],[876,0.3],[882,1],[884,0.2],[890,1],[892,0.2],[898,2],[900,0.3],[906,1],[908,0.2],[914,1.5],[916,0.3],[922,2],[924,0.3],[930,1],[932,0.2],[938,4],[940,0.5],[946,2],[948,0.3],[950.8,12.6],[952.5,0.5],[958,2],[960,0.3],[966,1],[968,0.2],[972,2],[975,4.5],[977,0.3],[982,1.5],[984,0.3],[990,2.5],[992,0.3],[998,3],[1000,0.3],[1005,2.5],[1007,0.3],[1012,1],[1014,0.2],[1022,1.5],[1024,0.2],[1030,1],[1032,0.2],[1040,2],[1042,0.2],[1050,1],[1052,0.2],[1058,3.5],[1060,0.3],[1068,1],[1070,0.2],[1076,2],[1078,0.3],[1084,1],[1086,0.2],[1090,4.7],[1092,0.3],[1098,1.5],[1100,0.3],[1108,1],[1110,0.2],[1115,2],[1117,0.3],[1122,1],[1124,0.2],[1130,2],[1132,0.3],[1140,1.5],[1142,0.3],[1150,2],[1152,0.3],[1158,4.2],[1160,0.3],[1166,1],[1168,0.2],[1172,2],[1174,0.3],[1180,3.5],[1182,0.3],[1188,1],[1190,0.2],[1196,2],[1198,0.3],[1204,1.5],[1206,0.3],[1212,3],[1214,0.3],[1220,6],[1222,0.5],[1225,8.9],[1227,0.5],[1232,6.9],[1234,0.5],[1240,3],[1242,0.5],[1246.7,18.6],[1248.5,1],[1252,6.7],[1254,0.5],[1258,3],[1260,0.3],[1266,2],[1268,0.3],[1274,3.5],[1276,0.3],[1280,4],[1282,0.3],[1288,2],[1290,0.3],[1298.6,10.9],[1300.5,0.5],[1305,7],[1307,0.5],[1311.5,4.2],[1313,0.3],[1318,1],[1320,0.2],[1328,2],[1330,0.3],[1336,1],[1338,0.2],[1346,2],[1348,0.3],[1356,1.5],[1358,0.2],[1364,3],[1366,0.3],[1372,2],[1374,0.3],[1380,4],[1382,0.3],[1388,7.6],[1390,8.1],[1392,0.5],[1398,4],[1400,0.5],[1406,5],[1408,0.5],[1414,5.7],[1416,0.5],[1422,3],[1424,0.3],[1430,3.8],[1432,0.3],[1438,2],[1440,0.3],[1446,1],[1448,0.2],[1454,2],[1456,0.3],[1462,11],[1464,1],[1468,3.7],[1470,0.3],[1476,2],[1478,0.3],[1484,2],[1486,0.5],[1492.8,12],[1494.5,1],[1497,3.7],[1499,0.3],[1506,1],[1508,0.2],[1515,0.5],[1517,0],[1526,0]];

const NSC_DATA = [A_NSC,B_NSC,C_NSC,D_NSC,E_NSC,F_NSC];
const SIP_DATA = [A_SIP,B_SIP,C_SIP,D_SIP,E_SIP,F_SIP];
const BOXES = [A_BOXES,B_BOXES,C_BOXES,D_BOXES,E_BOXES,F_BOXES];
const ARROWS = [A_ARROWS,B_ARROWS,C_ARROWS,D_ARROWS,E_ARROWS,F_ARROWS];

// ---------- LAYOUT (pixels / styles) ----------
const GRIDS = [
  {left:36, top:29.3, width:302.5, height:161.7},
  {left:404.7, top:29.3, width:301, height:161.7},
  {left:37.3, top:247.3, width:302, height:161},
  {left:401.7, top:247.3, width:301.6, height:161.7},
  {left:42.3, top:464.3, width:302, height:162.4},
  {left:401.7, top:466.7, width:301.6, height:160.6}
];
const TITLE_POS = [[190,15.8],[553.3,20.3],[192.7,238.3],[565.7,238.3],[198.3,453.3],[563.3,455.7]];
const LETTER_POS = [[5.5,8],[376,8],[4.7,226],[375.7,226],[5,459],[375,459.5]];
const BOX_HALF = [1.05,1,1,1,1,1];
const FONT = '"Liberation Sans", Arial, Helvetica, sans-serif';
const NSC_COLOR = 'rgba(40,98,180,0.62)';
const SIP_COLOR = 'rgba(236,28,36,0.6)';

const grid = [], xAxis = [], yAxis = [], series = [], graphic = [];
for (let i = 0; i < 6; i++) {
  grid.push(Object.assign({containLabel:false}, GRIDS[i]));
  xAxis.push({
    type:'value', gridIndex:i, min:X_RANGE[i][0], max:X_RANGE[i][1],
    axisLine:{onZero:false, lineStyle:{color:'#333', width:1}},
    axisTick:{length:3, lineStyle:{color:'#333'}, customValues:X_TICKS[i]},
    axisLabel:{customValues:X_TICKS[i], formatter:v => String(v), color:'#4d4d4d', fontSize:8.5, margin:5, fontFamily:FONT},
    splitLine:{show:false},
    name:'Codon position', nameLocation:'middle', nameGap:11,
    nameTextStyle:{fontSize:8.5, color:'#333', fontFamily:FONT}
  });
  yAxis.push({
    type:'value', gridIndex:i, min:Y_RANGE[i][0], max:Y_RANGE[i][1],
    axisLine:{show:true, onZero:false, lineStyle:{color:'#333', width:1}},
    axisTick:{show:true, length:3, lineStyle:{color:'#333'}, customValues:Y_TICKS[i]},
    axisLabel:{customValues:Y_TICKS[i], formatter:v => String(v), color:'#4d4d4d', fontSize:8.5, margin:4.5, fontFamily:FONT},
    splitLine:{show:false},
    name:'Normalized reads', nameLocation:'middle', nameGap:13.5,
    nameTextStyle:{fontSize:8.5, color:'#333', fontFamily:FONT}
  });
  const tr = TRACKS[i];
  series.push({
    type:'line', xAxisIndex:i, yAxisIndex:i, silent:true, symbol:'none',
    data:[[tr[0],tr[2]],[tr[1],tr[2]]],
    lineStyle:{color:'#d6d6d6', width:1.5}, z:1
  });
  const half = BOX_HALF[i];
  series.push({
    type:'custom', xAxisIndex:i, yAxisIndex:i, silent:true, z:1,
    data: BOXES[i].map(b => [b[0], b[1], tr[2]]),
    encode:{x:[0,1], y:2},
    renderItem:(params, api) => {
      const p0 = api.coord([api.value(0), api.value(2) + half]);
      const p1 = api.coord([api.value(1), api.value(2) - half]);
      return {type:'rect', shape:{x:p0[0], y:p0[1], width:p1[0]-p0[0], height:p1[1]-p0[1]}, style:{fill:'#bebebe'}};
    }
  });
  series.push({
    name:'siP', type:'line', xAxisIndex:i, yAxisIndex:i, data:SIP_DATA[i],
    symbol:'none', showSymbol:false, lineStyle:{color:SIP_COLOR, width:1}, itemStyle:{color:SIP_COLOR},
    silent:true, z:2
  });
  series.push({
    name:'NSC', type:'line', xAxisIndex:i, yAxisIndex:i, data:NSC_DATA[i],
    symbol:'none', showSymbol:false, lineStyle:{color:NSC_COLOR, width:1}, itemStyle:{color:NSC_COLOR},
    silent:true, z:3
  });
  series.push({
    type:'custom', xAxisIndex:i, yAxisIndex:i, silent:true, clip:false, z:5,
    data: ARROWS[i], encode:{x:0, y:1},
    renderItem:(params, api) => {
      const p = api.coord([api.value(0), api.value(1)]);
      const x = p[0], y = p[1];
      return {type:'polygon', shape:{points:[[x,y],[x-6.3,y-8.3],[x-3.3,y-8.3],[x-3.3,y-16.7],[x+3.3,y-16.7],[x+3.3,y-8.3],[x+6.3,y-8.3]]}, style:{fill:'#000'}};
    }
  });
  graphic.push({type:'text', x:TITLE_POS[i][0], y:TITLE_POS[i][1],
    style:{text:GENES[i], fill:'#000', font:'15px ' + FONT, textAlign:'center', textVerticalAlign:'middle', align:'center', verticalAlign:'middle'}});
  graphic.push({type:'text', x:LETTER_POS[i][0], y:LETTER_POS[i][1],
    style:{text:PANEL_LETTERS[i], fill:'#000', font:'bold 14px ' + FONT, textAlign:'center', textVerticalAlign:'middle', align:'center', verticalAlign:'middle'}});
}

const chart = echarts.init(document.getElementById('c'), null, {renderer:'canvas'});
chart.setOption({
  animation:false,
  backgroundColor:'#fff',
  textStyle:{fontFamily:FONT},
  grid, xAxis, yAxis, series, graphic,
  legend:{
    data:SERIES_NAMES, left:298, top:640, icon:'rect', itemWidth:23, itemHeight:1.5, itemGap:6,
    textStyle:{fontSize:14.5, color:'#1a1a1a', fontFamily:FONT, padding:[0,0,0,9]},
    selectedMode:false
  }
});
</script></body></html>
